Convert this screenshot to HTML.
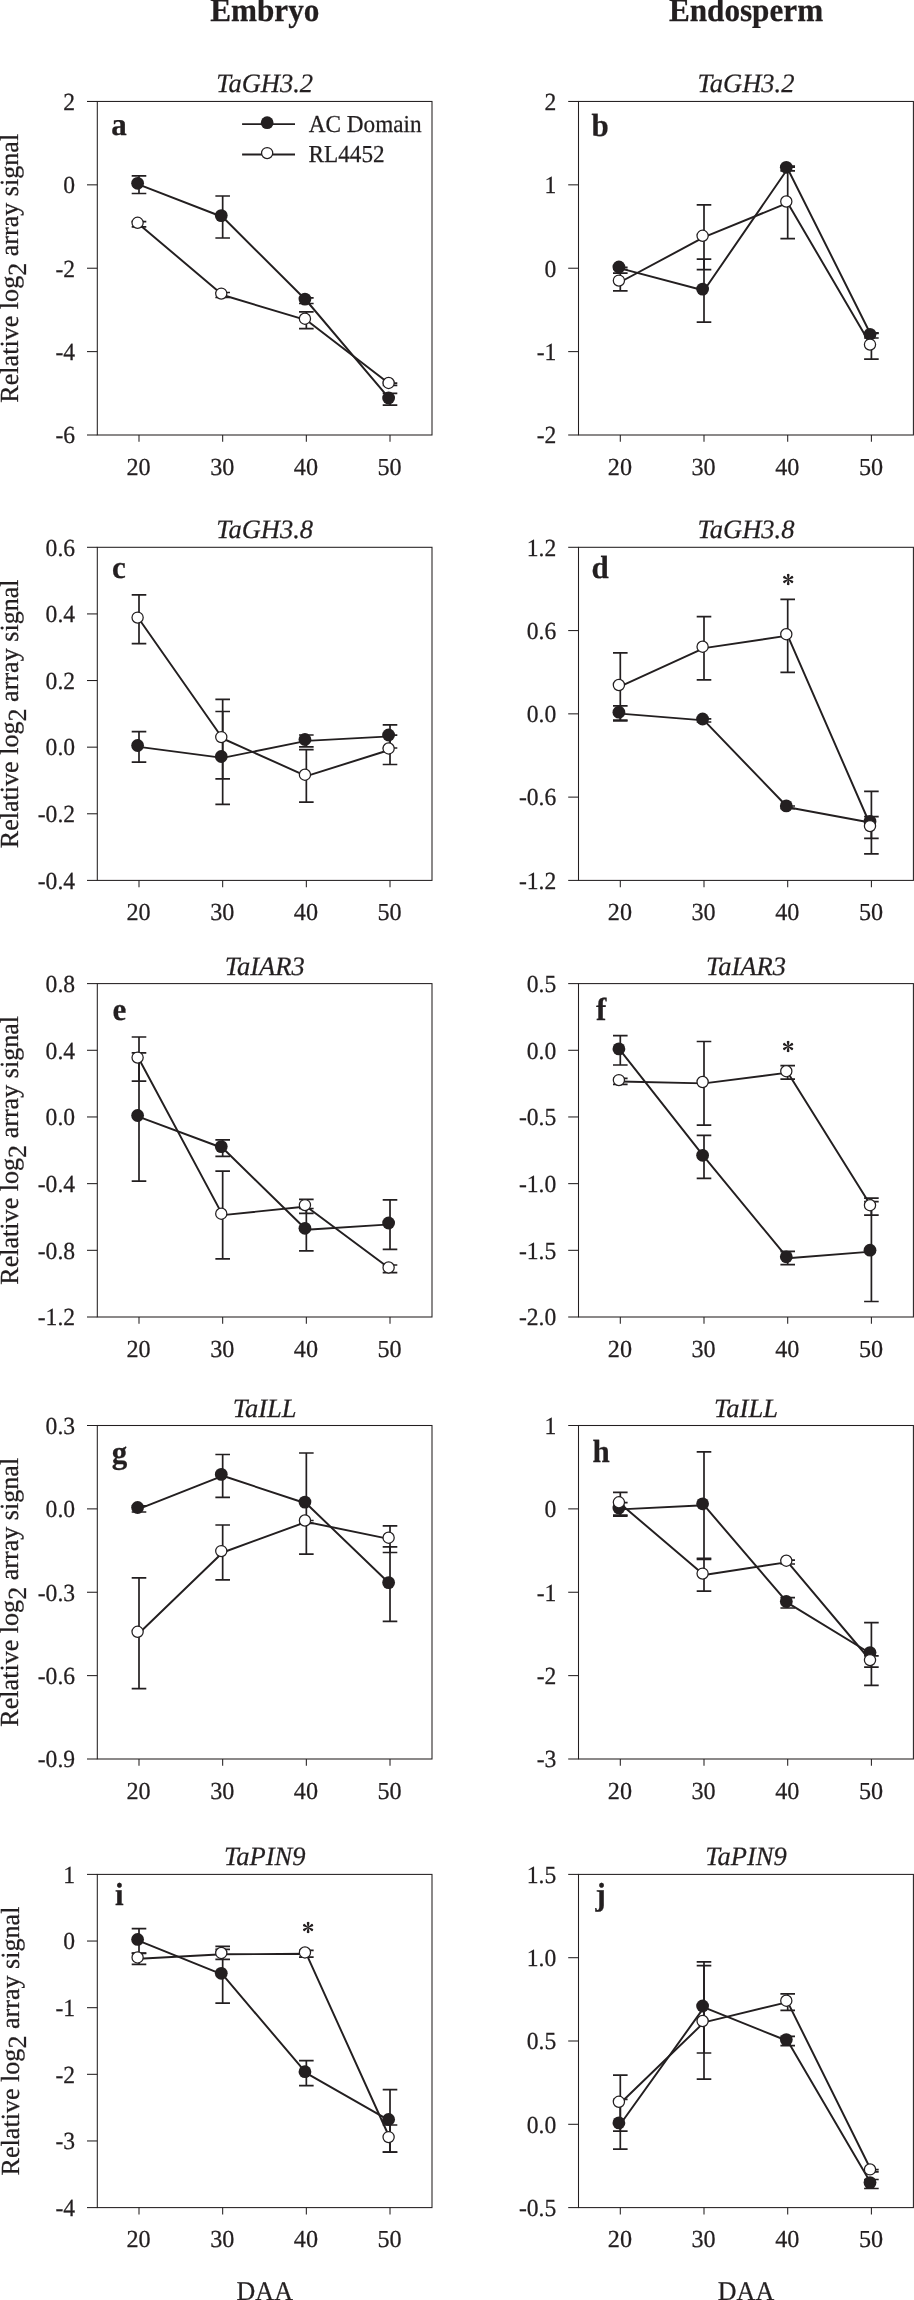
<!DOCTYPE html>
<html><head><meta charset="utf-8"><title>Embryo / Endosperm</title><style>
html,body{margin:0;padding:0;background:#fff;width:914px;height:2300px;overflow:hidden;}
svg{display:block;will-change:transform;font-family:"Liberation Serif", serif;}
text{fill:#231f20;stroke:#231f20;stroke-width:0.25px;text-rendering:geometricPrecision;}
</style></head><body>
<svg width="914" height="2300" viewBox="0 0 914 2300">
<!-- panel a -->
<rect x="97.30" y="101.45" width="334.70" height="333.55" fill="none" stroke="#231f20" stroke-width="1.05"/>
<line x1="87.00" y1="101.45" x2="97.30" y2="101.45" stroke="#231f20" stroke-width="1.05" />
<text transform="translate(75.10,109.75) scale(1,1.04)" font-size="23.6" text-anchor="end" >2</text>
<line x1="87.00" y1="184.84" x2="97.30" y2="184.84" stroke="#231f20" stroke-width="1.05" />
<text transform="translate(75.10,193.14) scale(1,1.04)" font-size="23.6" text-anchor="end" >0</text>
<line x1="87.00" y1="268.23" x2="97.30" y2="268.23" stroke="#231f20" stroke-width="1.05" />
<text transform="translate(75.10,276.53) scale(1,1.04)" font-size="23.6" text-anchor="end" >-2</text>
<line x1="87.00" y1="351.61" x2="97.30" y2="351.61" stroke="#231f20" stroke-width="1.05" />
<text transform="translate(75.10,359.91) scale(1,1.04)" font-size="23.6" text-anchor="end" >-4</text>
<line x1="87.00" y1="435.00" x2="97.30" y2="435.00" stroke="#231f20" stroke-width="1.05" />
<text transform="translate(75.10,443.30) scale(1,1.04)" font-size="23.6" text-anchor="end" >-6</text>
<line x1="139.00" y1="435.00" x2="139.00" y2="441.80" stroke="#231f20" stroke-width="1.05" />
<text transform="translate(138.60,474.70) scale(1,1.01)" font-size="24.2" text-anchor="middle" >20</text>
<line x1="222.67" y1="435.00" x2="222.67" y2="441.80" stroke="#231f20" stroke-width="1.05" />
<text transform="translate(222.27,474.70) scale(1,1.01)" font-size="24.2" text-anchor="middle" >30</text>
<line x1="306.34" y1="435.00" x2="306.34" y2="441.80" stroke="#231f20" stroke-width="1.05" />
<text transform="translate(305.94,474.70) scale(1,1.01)" font-size="24.2" text-anchor="middle" >40</text>
<line x1="390.01" y1="435.00" x2="390.01" y2="441.80" stroke="#231f20" stroke-width="1.05" />
<text transform="translate(389.61,474.70) scale(1,1.01)" font-size="24.2" text-anchor="middle" >50</text>
<text x="264.65" y="92.45" font-size="26.5" text-anchor="middle" font-style="italic" >TaGH3.2</text>
<text transform="translate(111.30,135.25) scale(1,1.03)" font-size="31" font-weight="bold" >a</text>
<polyline points="139.00,184.70 222.67,217.00 306.34,300.50 390.01,399.40" fill="none" stroke="#231f20" stroke-width="1.95" stroke-linejoin="round"/>
<polyline points="139.00,224.20 222.67,295.00 306.34,320.10 390.01,384.30" fill="none" stroke="#231f20" stroke-width="1.95" stroke-linejoin="round"/>
<path d="M139.00 175.90V193.50M131.70 175.90H146.30M131.70 193.50H146.30M222.67 196.00V238.00M215.37 196.00H229.97M215.37 238.00H229.97M306.34 297.90V303.50M299.04 297.90H313.64M299.04 303.50H313.64M390.01 393.40V405.20M382.71 393.40H397.31M382.71 405.20H397.31" stroke="#231f20" stroke-width="1.7" fill="none"/>
<circle cx="137.60" cy="183.30" r="6.4" fill="#231f20"/>
<circle cx="221.27" cy="215.60" r="6.4" fill="#231f20"/>
<circle cx="304.94" cy="299.10" r="6.4" fill="#231f20"/>
<circle cx="388.61" cy="398.00" r="6.4" fill="#231f20"/>
<path d="M139.00 221.60V226.80M131.70 221.60H146.30M131.70 226.80H146.30M222.67 292.50V297.50M215.37 292.50H229.97M215.37 297.50H229.97M306.34 311.80V328.60M299.04 311.80H313.64M299.04 328.60H313.64M390.01 383.20V385.40M382.71 383.20H397.31M382.71 385.40H397.31" stroke="#231f20" stroke-width="1.7" fill="none"/>
<circle cx="137.60" cy="222.80" r="5.6" fill="#fff" stroke="#231f20" stroke-width="1.25"/>
<circle cx="221.27" cy="293.60" r="5.6" fill="#fff" stroke="#231f20" stroke-width="1.25"/>
<circle cx="304.94" cy="318.70" r="5.6" fill="#fff" stroke="#231f20" stroke-width="1.25"/>
<circle cx="388.61" cy="382.90" r="5.6" fill="#fff" stroke="#231f20" stroke-width="1.25"/>
<line x1="242.10" y1="124.10" x2="295.00" y2="124.10" stroke="#231f20" stroke-width="1.95" />
<circle cx="267.15" cy="122.70" r="6.4" fill="#231f20"/>
<line x1="242.10" y1="154.50" x2="295.00" y2="154.50" stroke="#231f20" stroke-width="1.95" />
<circle cx="267.15" cy="153.10" r="5.6" fill="#fff" stroke="#231f20" stroke-width="1.25"/>
<text transform="translate(308.80,131.70) scale(1,1.05)" font-size="23.2" >AC Domain</text>
<text transform="translate(308.60,162.30) scale(1,1.05)" font-size="23.2" >RL4452</text>
<!-- panel b -->
<rect x="578.50" y="101.45" width="334.90" height="333.55" fill="none" stroke="#231f20" stroke-width="1.05"/>
<line x1="568.20" y1="101.45" x2="578.50" y2="101.45" stroke="#231f20" stroke-width="1.05" />
<text transform="translate(556.30,109.75) scale(1,1.04)" font-size="23.6" text-anchor="end" >2</text>
<line x1="568.20" y1="184.84" x2="578.50" y2="184.84" stroke="#231f20" stroke-width="1.05" />
<text transform="translate(556.30,193.14) scale(1,1.04)" font-size="23.6" text-anchor="end" >1</text>
<line x1="568.20" y1="268.23" x2="578.50" y2="268.23" stroke="#231f20" stroke-width="1.05" />
<text transform="translate(556.30,276.53) scale(1,1.04)" font-size="23.6" text-anchor="end" >0</text>
<line x1="568.20" y1="351.61" x2="578.50" y2="351.61" stroke="#231f20" stroke-width="1.05" />
<text transform="translate(556.30,359.91) scale(1,1.04)" font-size="23.6" text-anchor="end" >-1</text>
<line x1="568.20" y1="435.00" x2="578.50" y2="435.00" stroke="#231f20" stroke-width="1.05" />
<text transform="translate(556.30,443.30) scale(1,1.04)" font-size="23.6" text-anchor="end" >-2</text>
<line x1="620.30" y1="435.00" x2="620.30" y2="441.80" stroke="#231f20" stroke-width="1.05" />
<text transform="translate(619.90,474.70) scale(1,1.01)" font-size="24.2" text-anchor="middle" >20</text>
<line x1="704.00" y1="435.00" x2="704.00" y2="441.80" stroke="#231f20" stroke-width="1.05" />
<text transform="translate(703.60,474.70) scale(1,1.01)" font-size="24.2" text-anchor="middle" >30</text>
<line x1="787.70" y1="435.00" x2="787.70" y2="441.80" stroke="#231f20" stroke-width="1.05" />
<text transform="translate(787.30,474.70) scale(1,1.01)" font-size="24.2" text-anchor="middle" >40</text>
<line x1="871.40" y1="435.00" x2="871.40" y2="441.80" stroke="#231f20" stroke-width="1.05" />
<text transform="translate(871.00,474.70) scale(1,1.01)" font-size="24.2" text-anchor="middle" >50</text>
<text x="745.95" y="92.45" font-size="26.5" text-anchor="middle" font-style="italic" >TaGH3.2</text>
<text transform="translate(591.50,135.55) scale(1,1.03)" font-size="31" font-weight="bold" >b</text>
<polyline points="620.30,268.40 704.00,290.50 787.70,168.70 871.40,335.70" fill="none" stroke="#231f20" stroke-width="1.95" stroke-linejoin="round"/>
<polyline points="620.30,282.00 704.00,237.20 787.70,202.90 871.40,346.00" fill="none" stroke="#231f20" stroke-width="1.95" stroke-linejoin="round"/>
<path d="M620.30 267.30V269.50M613.00 267.30H627.60M613.00 269.50H627.60M704.00 259.10V322.10M696.70 259.10H711.30M696.70 322.10H711.30M787.70 166.20V170.90M780.40 166.20H795.00M780.40 170.90H795.00M871.40 333.40V338.00M864.10 333.40H878.70M864.10 338.00H878.70" stroke="#231f20" stroke-width="1.7" fill="none"/>
<circle cx="618.90" cy="267.00" r="6.4" fill="#231f20"/>
<circle cx="702.60" cy="289.10" r="6.4" fill="#231f20"/>
<circle cx="786.30" cy="167.30" r="6.4" fill="#231f20"/>
<circle cx="870.00" cy="334.30" r="6.4" fill="#231f20"/>
<path d="M620.30 273.10V290.90M613.00 273.10H627.60M613.00 290.90H627.60M704.00 204.90V269.70M696.70 204.90H711.30M696.70 269.70H711.30M787.70 167.20V238.60M780.40 167.20H795.00M780.40 238.60H795.00M871.40 332.80V359.20M864.10 332.80H878.70M864.10 359.20H878.70" stroke="#231f20" stroke-width="1.7" fill="none"/>
<circle cx="618.90" cy="280.60" r="5.6" fill="#fff" stroke="#231f20" stroke-width="1.25"/>
<circle cx="702.60" cy="235.80" r="5.6" fill="#fff" stroke="#231f20" stroke-width="1.25"/>
<circle cx="786.30" cy="201.50" r="5.6" fill="#fff" stroke="#231f20" stroke-width="1.25"/>
<circle cx="870.00" cy="344.60" r="5.6" fill="#fff" stroke="#231f20" stroke-width="1.25"/>
<!-- panel c -->
<rect x="97.30" y="547.30" width="334.70" height="333.10" fill="none" stroke="#231f20" stroke-width="1.05"/>
<line x1="87.00" y1="547.30" x2="97.30" y2="547.30" stroke="#231f20" stroke-width="1.05" />
<text transform="translate(75.10,555.60) scale(1,1.04)" font-size="23.6" text-anchor="end" >0.6</text>
<line x1="87.00" y1="613.92" x2="97.30" y2="613.92" stroke="#231f20" stroke-width="1.05" />
<text transform="translate(75.10,622.22) scale(1,1.04)" font-size="23.6" text-anchor="end" >0.4</text>
<line x1="87.00" y1="680.54" x2="97.30" y2="680.54" stroke="#231f20" stroke-width="1.05" />
<text transform="translate(75.10,688.84) scale(1,1.04)" font-size="23.6" text-anchor="end" >0.2</text>
<line x1="87.00" y1="747.16" x2="97.30" y2="747.16" stroke="#231f20" stroke-width="1.05" />
<text transform="translate(75.10,755.46) scale(1,1.04)" font-size="23.6" text-anchor="end" >0.0</text>
<line x1="87.00" y1="813.78" x2="97.30" y2="813.78" stroke="#231f20" stroke-width="1.05" />
<text transform="translate(75.10,822.08) scale(1,1.04)" font-size="23.6" text-anchor="end" >-0.2</text>
<line x1="87.00" y1="880.40" x2="97.30" y2="880.40" stroke="#231f20" stroke-width="1.05" />
<text transform="translate(75.10,888.70) scale(1,1.04)" font-size="23.6" text-anchor="end" >-0.4</text>
<line x1="139.00" y1="880.40" x2="139.00" y2="887.20" stroke="#231f20" stroke-width="1.05" />
<text transform="translate(138.60,920.10) scale(1,1.01)" font-size="24.2" text-anchor="middle" >20</text>
<line x1="222.67" y1="880.40" x2="222.67" y2="887.20" stroke="#231f20" stroke-width="1.05" />
<text transform="translate(222.27,920.10) scale(1,1.01)" font-size="24.2" text-anchor="middle" >30</text>
<line x1="306.34" y1="880.40" x2="306.34" y2="887.20" stroke="#231f20" stroke-width="1.05" />
<text transform="translate(305.94,920.10) scale(1,1.01)" font-size="24.2" text-anchor="middle" >40</text>
<line x1="390.01" y1="880.40" x2="390.01" y2="887.20" stroke="#231f20" stroke-width="1.05" />
<text transform="translate(389.61,920.10) scale(1,1.01)" font-size="24.2" text-anchor="middle" >50</text>
<text x="264.65" y="538.30" font-size="26.5" text-anchor="middle" font-style="italic" >TaGH3.8</text>
<text transform="translate(112.10,577.80) scale(1,1.03)" font-size="31" font-weight="bold" >c</text>
<polyline points="139.00,746.90 222.67,757.90 306.34,740.90 390.01,736.40" fill="none" stroke="#231f20" stroke-width="1.95" stroke-linejoin="round"/>
<polyline points="139.00,619.00 222.67,738.50 306.34,776.10 390.01,749.80" fill="none" stroke="#231f20" stroke-width="1.95" stroke-linejoin="round"/>
<path d="M139.00 731.70V762.20M131.70 731.70H146.30M131.70 762.20H146.30M222.67 711.50V804.30M215.37 711.50H229.97M215.37 804.30H229.97M306.34 735.00V746.80M299.04 735.00H313.64M299.04 746.80H313.64M390.01 724.80V748.00M382.71 724.80H397.31M382.71 748.00H397.31" stroke="#231f20" stroke-width="1.7" fill="none"/>
<circle cx="137.60" cy="745.50" r="6.4" fill="#231f20"/>
<circle cx="221.27" cy="756.50" r="6.4" fill="#231f20"/>
<circle cx="304.94" cy="739.50" r="6.4" fill="#231f20"/>
<circle cx="388.61" cy="735.00" r="6.4" fill="#231f20"/>
<path d="M139.00 594.90V643.60M131.70 594.90H146.30M131.70 643.60H146.30M222.67 699.30V778.80M215.37 699.30H229.97M215.37 778.80H229.97M306.34 749.60V802.20M299.04 749.60H313.64M299.04 802.20H313.64M390.01 735.10V764.50M382.71 735.10H397.31M382.71 764.50H397.31" stroke="#231f20" stroke-width="1.7" fill="none"/>
<circle cx="137.60" cy="617.60" r="5.6" fill="#fff" stroke="#231f20" stroke-width="1.25"/>
<circle cx="221.27" cy="737.10" r="5.6" fill="#fff" stroke="#231f20" stroke-width="1.25"/>
<circle cx="304.94" cy="774.70" r="5.6" fill="#fff" stroke="#231f20" stroke-width="1.25"/>
<circle cx="388.61" cy="748.40" r="5.6" fill="#fff" stroke="#231f20" stroke-width="1.25"/>
<!-- panel d -->
<rect x="578.50" y="547.30" width="334.90" height="333.10" fill="none" stroke="#231f20" stroke-width="1.05"/>
<line x1="568.20" y1="547.30" x2="578.50" y2="547.30" stroke="#231f20" stroke-width="1.05" />
<text transform="translate(556.30,555.60) scale(1,1.04)" font-size="23.6" text-anchor="end" >1.2</text>
<line x1="568.20" y1="630.57" x2="578.50" y2="630.57" stroke="#231f20" stroke-width="1.05" />
<text transform="translate(556.30,638.87) scale(1,1.04)" font-size="23.6" text-anchor="end" >0.6</text>
<line x1="568.20" y1="713.85" x2="578.50" y2="713.85" stroke="#231f20" stroke-width="1.05" />
<text transform="translate(556.30,722.15) scale(1,1.04)" font-size="23.6" text-anchor="end" >0.0</text>
<line x1="568.20" y1="797.12" x2="578.50" y2="797.12" stroke="#231f20" stroke-width="1.05" />
<text transform="translate(556.30,805.42) scale(1,1.04)" font-size="23.6" text-anchor="end" >-0.6</text>
<line x1="568.20" y1="880.40" x2="578.50" y2="880.40" stroke="#231f20" stroke-width="1.05" />
<text transform="translate(556.30,888.70) scale(1,1.04)" font-size="23.6" text-anchor="end" >-1.2</text>
<line x1="620.30" y1="880.40" x2="620.30" y2="887.20" stroke="#231f20" stroke-width="1.05" />
<text transform="translate(619.90,920.10) scale(1,1.01)" font-size="24.2" text-anchor="middle" >20</text>
<line x1="704.00" y1="880.40" x2="704.00" y2="887.20" stroke="#231f20" stroke-width="1.05" />
<text transform="translate(703.60,920.10) scale(1,1.01)" font-size="24.2" text-anchor="middle" >30</text>
<line x1="787.70" y1="880.40" x2="787.70" y2="887.20" stroke="#231f20" stroke-width="1.05" />
<text transform="translate(787.30,920.10) scale(1,1.01)" font-size="24.2" text-anchor="middle" >40</text>
<line x1="871.40" y1="880.40" x2="871.40" y2="887.20" stroke="#231f20" stroke-width="1.05" />
<text transform="translate(871.00,920.10) scale(1,1.01)" font-size="24.2" text-anchor="middle" >50</text>
<text x="745.95" y="538.30" font-size="26.5" text-anchor="middle" font-style="italic" >TaGH3.8</text>
<text transform="translate(591.40,577.90) scale(1,1.03)" font-size="31" font-weight="bold" >d</text>
<polyline points="620.30,713.60 704.00,720.40 787.70,807.30 871.40,822.80" fill="none" stroke="#231f20" stroke-width="1.95" stroke-linejoin="round"/>
<polyline points="620.30,686.40 704.00,648.10 787.70,635.60 871.40,827.50" fill="none" stroke="#231f20" stroke-width="1.95" stroke-linejoin="round"/>
<path d="M620.30 705.80V720.80M613.00 705.80H627.60M613.00 720.80H627.60M704.00 718.80V722.00M696.70 718.80H711.30M696.70 722.00H711.30M787.70 806.00V808.60M780.40 806.00H795.00M780.40 808.60H795.00M871.40 791.40V853.90M864.10 791.40H878.70M864.10 853.90H878.70" stroke="#231f20" stroke-width="1.7" fill="none"/>
<circle cx="618.90" cy="712.20" r="6.4" fill="#231f20"/>
<circle cx="702.60" cy="719.00" r="6.4" fill="#231f20"/>
<circle cx="786.30" cy="805.90" r="6.4" fill="#231f20"/>
<circle cx="870.00" cy="821.40" r="6.4" fill="#231f20"/>
<path d="M620.30 652.80V720.00M613.00 652.80H627.60M613.00 720.00H627.60M704.00 616.70V679.90M696.70 616.70H711.30M696.70 679.90H711.30M787.70 599.40V672.30M780.40 599.40H795.00M780.40 672.30H795.00M871.40 816.70V838.30M864.10 816.70H878.70M864.10 838.30H878.70" stroke="#231f20" stroke-width="1.7" fill="none"/>
<circle cx="618.90" cy="685.00" r="5.6" fill="#fff" stroke="#231f20" stroke-width="1.25"/>
<circle cx="702.60" cy="646.70" r="5.6" fill="#fff" stroke="#231f20" stroke-width="1.25"/>
<circle cx="786.30" cy="634.20" r="5.6" fill="#fff" stroke="#231f20" stroke-width="1.25"/>
<circle cx="870.00" cy="826.10" r="5.6" fill="#fff" stroke="#231f20" stroke-width="1.25"/>
<g transform="translate(788.20,579.50)" fill="#231f20"><path d="M-0.42 0L-1.25 -3.95A1.32 1.32 0 1 1 1.25 -3.95L0.42 0Z" transform="rotate(0)"/><path d="M-0.42 0L-1.25 -3.95A1.32 1.32 0 1 1 1.25 -3.95L0.42 0Z" transform="rotate(60)"/><path d="M-0.42 0L-1.25 -3.95A1.32 1.32 0 1 1 1.25 -3.95L0.42 0Z" transform="rotate(120)"/><path d="M-0.42 0L-1.25 -3.95A1.32 1.32 0 1 1 1.25 -3.95L0.42 0Z" transform="rotate(180)"/><path d="M-0.42 0L-1.25 -3.95A1.32 1.32 0 1 1 1.25 -3.95L0.42 0Z" transform="rotate(240)"/><path d="M-0.42 0L-1.25 -3.95A1.32 1.32 0 1 1 1.25 -3.95L0.42 0Z" transform="rotate(300)"/></g>
<!-- panel e -->
<rect x="97.30" y="983.60" width="334.70" height="333.40" fill="none" stroke="#231f20" stroke-width="1.05"/>
<line x1="87.00" y1="983.60" x2="97.30" y2="983.60" stroke="#231f20" stroke-width="1.05" />
<text transform="translate(75.10,991.90) scale(1,1.04)" font-size="23.6" text-anchor="end" >0.8</text>
<line x1="87.00" y1="1050.28" x2="97.30" y2="1050.28" stroke="#231f20" stroke-width="1.05" />
<text transform="translate(75.10,1058.58) scale(1,1.04)" font-size="23.6" text-anchor="end" >0.4</text>
<line x1="87.00" y1="1116.96" x2="97.30" y2="1116.96" stroke="#231f20" stroke-width="1.05" />
<text transform="translate(75.10,1125.26) scale(1,1.04)" font-size="23.6" text-anchor="end" >0.0</text>
<line x1="87.00" y1="1183.64" x2="97.30" y2="1183.64" stroke="#231f20" stroke-width="1.05" />
<text transform="translate(75.10,1191.94) scale(1,1.04)" font-size="23.6" text-anchor="end" >-0.4</text>
<line x1="87.00" y1="1250.32" x2="97.30" y2="1250.32" stroke="#231f20" stroke-width="1.05" />
<text transform="translate(75.10,1258.62) scale(1,1.04)" font-size="23.6" text-anchor="end" >-0.8</text>
<line x1="87.00" y1="1317.00" x2="97.30" y2="1317.00" stroke="#231f20" stroke-width="1.05" />
<text transform="translate(75.10,1325.30) scale(1,1.04)" font-size="23.6" text-anchor="end" >-1.2</text>
<line x1="139.00" y1="1317.00" x2="139.00" y2="1323.80" stroke="#231f20" stroke-width="1.05" />
<text transform="translate(138.60,1356.70) scale(1,1.01)" font-size="24.2" text-anchor="middle" >20</text>
<line x1="222.67" y1="1317.00" x2="222.67" y2="1323.80" stroke="#231f20" stroke-width="1.05" />
<text transform="translate(222.27,1356.70) scale(1,1.01)" font-size="24.2" text-anchor="middle" >30</text>
<line x1="306.34" y1="1317.00" x2="306.34" y2="1323.80" stroke="#231f20" stroke-width="1.05" />
<text transform="translate(305.94,1356.70) scale(1,1.01)" font-size="24.2" text-anchor="middle" >40</text>
<line x1="390.01" y1="1317.00" x2="390.01" y2="1323.80" stroke="#231f20" stroke-width="1.05" />
<text transform="translate(389.61,1356.70) scale(1,1.01)" font-size="24.2" text-anchor="middle" >50</text>
<text x="264.65" y="974.60" font-size="26.5" text-anchor="middle" font-style="italic" >TaIAR3</text>
<text transform="translate(112.40,1020.20) scale(1,1.03)" font-size="31" font-weight="bold" >e</text>
<polyline points="139.00,1116.90 222.67,1148.00 306.34,1229.70 390.01,1224.40" fill="none" stroke="#231f20" stroke-width="1.95" stroke-linejoin="round"/>
<polyline points="139.00,1059.00 222.67,1215.10 306.34,1206.50 390.01,1268.80" fill="none" stroke="#231f20" stroke-width="1.95" stroke-linejoin="round"/>
<path d="M139.00 1052.90V1181.10M131.70 1052.90H146.30M131.70 1181.10H146.30M222.67 1139.80V1156.30M215.37 1139.80H229.97M215.37 1156.30H229.97M306.34 1208.50V1250.90M299.04 1208.50H313.64M299.04 1250.90H313.64M390.01 1199.90V1249.30M382.71 1199.90H397.31M382.71 1249.30H397.31" stroke="#231f20" stroke-width="1.7" fill="none"/>
<circle cx="137.60" cy="1115.50" r="6.4" fill="#231f20"/>
<circle cx="221.27" cy="1146.60" r="6.4" fill="#231f20"/>
<circle cx="304.94" cy="1228.30" r="6.4" fill="#231f20"/>
<circle cx="388.61" cy="1223.00" r="6.4" fill="#231f20"/>
<path d="M139.00 1037.00V1081.20M131.70 1037.00H146.30M131.70 1081.20H146.30M222.67 1171.10V1258.80M215.37 1171.10H229.97M215.37 1258.80H229.97M306.34 1199.40V1213.40M299.04 1199.40H313.64M299.04 1213.40H313.64M390.01 1265.00V1272.60M382.71 1265.00H397.31M382.71 1272.60H397.31" stroke="#231f20" stroke-width="1.7" fill="none"/>
<circle cx="137.60" cy="1057.60" r="5.6" fill="#fff" stroke="#231f20" stroke-width="1.25"/>
<circle cx="221.27" cy="1213.70" r="5.6" fill="#fff" stroke="#231f20" stroke-width="1.25"/>
<circle cx="304.94" cy="1205.10" r="5.6" fill="#fff" stroke="#231f20" stroke-width="1.25"/>
<circle cx="388.61" cy="1267.40" r="5.6" fill="#fff" stroke="#231f20" stroke-width="1.25"/>
<!-- panel f -->
<rect x="578.50" y="983.60" width="334.90" height="333.40" fill="none" stroke="#231f20" stroke-width="1.05"/>
<line x1="568.20" y1="983.60" x2="578.50" y2="983.60" stroke="#231f20" stroke-width="1.05" />
<text transform="translate(556.30,991.90) scale(1,1.04)" font-size="23.6" text-anchor="end" >0.5</text>
<line x1="568.20" y1="1050.28" x2="578.50" y2="1050.28" stroke="#231f20" stroke-width="1.05" />
<text transform="translate(556.30,1058.58) scale(1,1.04)" font-size="23.6" text-anchor="end" >0.0</text>
<line x1="568.20" y1="1116.96" x2="578.50" y2="1116.96" stroke="#231f20" stroke-width="1.05" />
<text transform="translate(556.30,1125.26) scale(1,1.04)" font-size="23.6" text-anchor="end" >-0.5</text>
<line x1="568.20" y1="1183.64" x2="578.50" y2="1183.64" stroke="#231f20" stroke-width="1.05" />
<text transform="translate(556.30,1191.94) scale(1,1.04)" font-size="23.6" text-anchor="end" >-1.0</text>
<line x1="568.20" y1="1250.32" x2="578.50" y2="1250.32" stroke="#231f20" stroke-width="1.05" />
<text transform="translate(556.30,1258.62) scale(1,1.04)" font-size="23.6" text-anchor="end" >-1.5</text>
<line x1="568.20" y1="1317.00" x2="578.50" y2="1317.00" stroke="#231f20" stroke-width="1.05" />
<text transform="translate(556.30,1325.30) scale(1,1.04)" font-size="23.6" text-anchor="end" >-2.0</text>
<line x1="620.30" y1="1317.00" x2="620.30" y2="1323.80" stroke="#231f20" stroke-width="1.05" />
<text transform="translate(619.90,1356.70) scale(1,1.01)" font-size="24.2" text-anchor="middle" >20</text>
<line x1="704.00" y1="1317.00" x2="704.00" y2="1323.80" stroke="#231f20" stroke-width="1.05" />
<text transform="translate(703.60,1356.70) scale(1,1.01)" font-size="24.2" text-anchor="middle" >30</text>
<line x1="787.70" y1="1317.00" x2="787.70" y2="1323.80" stroke="#231f20" stroke-width="1.05" />
<text transform="translate(787.30,1356.70) scale(1,1.01)" font-size="24.2" text-anchor="middle" >40</text>
<line x1="871.40" y1="1317.00" x2="871.40" y2="1323.80" stroke="#231f20" stroke-width="1.05" />
<text transform="translate(871.00,1356.70) scale(1,1.01)" font-size="24.2" text-anchor="middle" >50</text>
<text x="745.95" y="974.60" font-size="26.5" text-anchor="middle" font-style="italic" >TaIAR3</text>
<text transform="translate(596.10,1020.40) scale(1,1.03)" font-size="31" font-weight="bold" >f</text>
<polyline points="620.30,1050.30 704.00,1156.70 787.70,1258.20 871.40,1251.60" fill="none" stroke="#231f20" stroke-width="1.95" stroke-linejoin="round"/>
<polyline points="620.30,1081.50 704.00,1083.40 787.70,1072.60 871.40,1206.60" fill="none" stroke="#231f20" stroke-width="1.95" stroke-linejoin="round"/>
<path d="M620.30 1035.70V1065.00M613.00 1035.70H627.60M613.00 1065.00H627.60M704.00 1135.30V1178.40M696.70 1135.30H711.30M696.70 1178.40H711.30M787.70 1251.30V1264.70M780.40 1251.30H795.00M780.40 1264.70H795.00M871.40 1201.70V1301.50M864.10 1201.70H878.70M864.10 1301.50H878.70" stroke="#231f20" stroke-width="1.7" fill="none"/>
<circle cx="618.90" cy="1048.90" r="6.4" fill="#231f20"/>
<circle cx="702.60" cy="1155.30" r="6.4" fill="#231f20"/>
<circle cx="786.30" cy="1256.80" r="6.4" fill="#231f20"/>
<circle cx="870.00" cy="1250.20" r="6.4" fill="#231f20"/>
<path d="M620.30 1078.30V1084.40M613.00 1078.30H627.60M613.00 1084.40H627.60M704.00 1041.50V1125.20M696.70 1041.50H711.30M696.70 1125.20H711.30M787.70 1065.60V1079.20M780.40 1065.60H795.00M780.40 1079.20H795.00M871.40 1198.20V1215.20M864.10 1198.20H878.70M864.10 1215.20H878.70" stroke="#231f20" stroke-width="1.7" fill="none"/>
<circle cx="618.90" cy="1080.10" r="5.6" fill="#fff" stroke="#231f20" stroke-width="1.25"/>
<circle cx="702.60" cy="1082.00" r="5.6" fill="#fff" stroke="#231f20" stroke-width="1.25"/>
<circle cx="786.30" cy="1071.20" r="5.6" fill="#fff" stroke="#231f20" stroke-width="1.25"/>
<circle cx="870.00" cy="1205.20" r="5.6" fill="#fff" stroke="#231f20" stroke-width="1.25"/>
<g transform="translate(788.10,1046.50)" fill="#231f20"><path d="M-0.42 0L-1.25 -3.95A1.32 1.32 0 1 1 1.25 -3.95L0.42 0Z" transform="rotate(0)"/><path d="M-0.42 0L-1.25 -3.95A1.32 1.32 0 1 1 1.25 -3.95L0.42 0Z" transform="rotate(60)"/><path d="M-0.42 0L-1.25 -3.95A1.32 1.32 0 1 1 1.25 -3.95L0.42 0Z" transform="rotate(120)"/><path d="M-0.42 0L-1.25 -3.95A1.32 1.32 0 1 1 1.25 -3.95L0.42 0Z" transform="rotate(180)"/><path d="M-0.42 0L-1.25 -3.95A1.32 1.32 0 1 1 1.25 -3.95L0.42 0Z" transform="rotate(240)"/><path d="M-0.42 0L-1.25 -3.95A1.32 1.32 0 1 1 1.25 -3.95L0.42 0Z" transform="rotate(300)"/></g>
<!-- panel g -->
<rect x="97.30" y="1425.50" width="334.70" height="333.50" fill="none" stroke="#231f20" stroke-width="1.05"/>
<line x1="87.00" y1="1425.50" x2="97.30" y2="1425.50" stroke="#231f20" stroke-width="1.05" />
<text transform="translate(75.10,1433.80) scale(1,1.04)" font-size="23.6" text-anchor="end" >0.3</text>
<line x1="87.00" y1="1508.88" x2="97.30" y2="1508.88" stroke="#231f20" stroke-width="1.05" />
<text transform="translate(75.10,1517.17) scale(1,1.04)" font-size="23.6" text-anchor="end" >0.0</text>
<line x1="87.00" y1="1592.25" x2="97.30" y2="1592.25" stroke="#231f20" stroke-width="1.05" />
<text transform="translate(75.10,1600.55) scale(1,1.04)" font-size="23.6" text-anchor="end" >-0.3</text>
<line x1="87.00" y1="1675.62" x2="97.30" y2="1675.62" stroke="#231f20" stroke-width="1.05" />
<text transform="translate(75.10,1683.92) scale(1,1.04)" font-size="23.6" text-anchor="end" >-0.6</text>
<line x1="87.00" y1="1759.00" x2="97.30" y2="1759.00" stroke="#231f20" stroke-width="1.05" />
<text transform="translate(75.10,1767.30) scale(1,1.04)" font-size="23.6" text-anchor="end" >-0.9</text>
<line x1="139.00" y1="1759.00" x2="139.00" y2="1765.80" stroke="#231f20" stroke-width="1.05" />
<text transform="translate(138.60,1798.70) scale(1,1.01)" font-size="24.2" text-anchor="middle" >20</text>
<line x1="222.67" y1="1759.00" x2="222.67" y2="1765.80" stroke="#231f20" stroke-width="1.05" />
<text transform="translate(222.27,1798.70) scale(1,1.01)" font-size="24.2" text-anchor="middle" >30</text>
<line x1="306.34" y1="1759.00" x2="306.34" y2="1765.80" stroke="#231f20" stroke-width="1.05" />
<text transform="translate(305.94,1798.70) scale(1,1.01)" font-size="24.2" text-anchor="middle" >40</text>
<line x1="390.01" y1="1759.00" x2="390.01" y2="1765.80" stroke="#231f20" stroke-width="1.05" />
<text transform="translate(389.61,1798.70) scale(1,1.01)" font-size="24.2" text-anchor="middle" >50</text>
<text x="264.65" y="1416.50" font-size="26.5" text-anchor="middle" font-style="italic" >TaILL</text>
<text transform="translate(111.80,1462.60) scale(1,1.03)" font-size="31" font-weight="bold" >g</text>
<polyline points="139.00,1508.90 222.67,1475.80 306.34,1503.50 390.01,1584.00" fill="none" stroke="#231f20" stroke-width="1.95" stroke-linejoin="round"/>
<polyline points="139.00,1633.20 222.67,1552.50 306.34,1521.90 390.01,1539.10" fill="none" stroke="#231f20" stroke-width="1.95" stroke-linejoin="round"/>
<path d="M139.00 1505.80V1512.00M131.70 1505.80H146.30M131.70 1512.00H146.30M222.67 1454.50V1497.30M215.37 1454.50H229.97M215.37 1497.30H229.97M306.34 1453.00V1554.20M299.04 1453.00H313.64M299.04 1554.20H313.64M390.01 1546.90V1621.30M382.71 1546.90H397.31M382.71 1621.30H397.31" stroke="#231f20" stroke-width="1.7" fill="none"/>
<circle cx="137.60" cy="1507.50" r="6.4" fill="#231f20"/>
<circle cx="221.27" cy="1474.40" r="6.4" fill="#231f20"/>
<circle cx="304.94" cy="1502.10" r="6.4" fill="#231f20"/>
<circle cx="388.61" cy="1582.60" r="6.4" fill="#231f20"/>
<path d="M139.00 1577.90V1688.70M131.70 1577.90H146.30M131.70 1688.70H146.30M222.67 1525.00V1579.90M215.37 1525.00H229.97M215.37 1579.90H229.97M306.34 1520.50V1523.30M299.04 1520.50H313.64M299.04 1523.30H313.64M390.01 1525.80V1552.50M382.71 1525.80H397.31M382.71 1552.50H397.31" stroke="#231f20" stroke-width="1.7" fill="none"/>
<circle cx="137.60" cy="1631.80" r="5.6" fill="#fff" stroke="#231f20" stroke-width="1.25"/>
<circle cx="221.27" cy="1551.10" r="5.6" fill="#fff" stroke="#231f20" stroke-width="1.25"/>
<circle cx="304.94" cy="1520.50" r="5.6" fill="#fff" stroke="#231f20" stroke-width="1.25"/>
<circle cx="388.61" cy="1537.70" r="5.6" fill="#fff" stroke="#231f20" stroke-width="1.25"/>
<!-- panel h -->
<rect x="578.50" y="1425.50" width="334.90" height="333.50" fill="none" stroke="#231f20" stroke-width="1.05"/>
<line x1="568.20" y1="1425.50" x2="578.50" y2="1425.50" stroke="#231f20" stroke-width="1.05" />
<text transform="translate(556.30,1433.80) scale(1,1.04)" font-size="23.6" text-anchor="end" >1</text>
<line x1="568.20" y1="1508.88" x2="578.50" y2="1508.88" stroke="#231f20" stroke-width="1.05" />
<text transform="translate(556.30,1517.17) scale(1,1.04)" font-size="23.6" text-anchor="end" >0</text>
<line x1="568.20" y1="1592.25" x2="578.50" y2="1592.25" stroke="#231f20" stroke-width="1.05" />
<text transform="translate(556.30,1600.55) scale(1,1.04)" font-size="23.6" text-anchor="end" >-1</text>
<line x1="568.20" y1="1675.62" x2="578.50" y2="1675.62" stroke="#231f20" stroke-width="1.05" />
<text transform="translate(556.30,1683.92) scale(1,1.04)" font-size="23.6" text-anchor="end" >-2</text>
<line x1="568.20" y1="1759.00" x2="578.50" y2="1759.00" stroke="#231f20" stroke-width="1.05" />
<text transform="translate(556.30,1767.30) scale(1,1.04)" font-size="23.6" text-anchor="end" >-3</text>
<line x1="620.30" y1="1759.00" x2="620.30" y2="1765.80" stroke="#231f20" stroke-width="1.05" />
<text transform="translate(619.90,1798.70) scale(1,1.01)" font-size="24.2" text-anchor="middle" >20</text>
<line x1="704.00" y1="1759.00" x2="704.00" y2="1765.80" stroke="#231f20" stroke-width="1.05" />
<text transform="translate(703.60,1798.70) scale(1,1.01)" font-size="24.2" text-anchor="middle" >30</text>
<line x1="787.70" y1="1759.00" x2="787.70" y2="1765.80" stroke="#231f20" stroke-width="1.05" />
<text transform="translate(787.30,1798.70) scale(1,1.01)" font-size="24.2" text-anchor="middle" >40</text>
<line x1="871.40" y1="1759.00" x2="871.40" y2="1765.80" stroke="#231f20" stroke-width="1.05" />
<text transform="translate(871.00,1798.70) scale(1,1.01)" font-size="24.2" text-anchor="middle" >50</text>
<text x="745.95" y="1416.50" font-size="26.5" text-anchor="middle" font-style="italic" >TaILL</text>
<text transform="translate(592.60,1462.10) scale(1,1.03)" font-size="31" font-weight="bold" >h</text>
<polyline points="620.30,1509.40 704.00,1505.20 787.70,1602.90 871.40,1654.00" fill="none" stroke="#231f20" stroke-width="1.95" stroke-linejoin="round"/>
<polyline points="620.30,1503.70 704.00,1575.00 787.70,1562.10 871.40,1661.50" fill="none" stroke="#231f20" stroke-width="1.95" stroke-linejoin="round"/>
<path d="M620.30 1502.70V1516.10M613.00 1502.70H627.60M613.00 1516.10H627.60M704.00 1451.80V1558.40M696.70 1451.80H711.30M696.70 1558.40H711.30M787.70 1597.70V1608.00M780.40 1597.70H795.00M780.40 1608.00H795.00M871.40 1622.60V1685.40M864.10 1622.60H878.70M864.10 1685.40H878.70" stroke="#231f20" stroke-width="1.7" fill="none"/>
<circle cx="618.90" cy="1508.00" r="6.4" fill="#231f20"/>
<circle cx="702.60" cy="1503.80" r="6.4" fill="#231f20"/>
<circle cx="786.30" cy="1601.50" r="6.4" fill="#231f20"/>
<circle cx="870.00" cy="1652.60" r="6.4" fill="#231f20"/>
<path d="M620.30 1492.30V1515.10M613.00 1492.30H627.60M613.00 1515.10H627.60M704.00 1559.30V1591.10M696.70 1559.30H711.30M696.70 1591.10H711.30M787.70 1560.20V1564.00M780.40 1560.20H795.00M780.40 1564.00H795.00M871.40 1655.80V1667.10M864.10 1655.80H878.70M864.10 1667.10H878.70" stroke="#231f20" stroke-width="1.7" fill="none"/>
<circle cx="618.90" cy="1502.30" r="5.6" fill="#fff" stroke="#231f20" stroke-width="1.25"/>
<circle cx="702.60" cy="1573.60" r="5.6" fill="#fff" stroke="#231f20" stroke-width="1.25"/>
<circle cx="786.30" cy="1560.70" r="5.6" fill="#fff" stroke="#231f20" stroke-width="1.25"/>
<circle cx="870.00" cy="1660.10" r="5.6" fill="#fff" stroke="#231f20" stroke-width="1.25"/>
<!-- panel i -->
<rect x="97.30" y="1874.40" width="334.70" height="333.20" fill="none" stroke="#231f20" stroke-width="1.05"/>
<line x1="87.00" y1="1874.40" x2="97.30" y2="1874.40" stroke="#231f20" stroke-width="1.05" />
<text transform="translate(75.10,1882.70) scale(1,1.04)" font-size="23.6" text-anchor="end" >1</text>
<line x1="87.00" y1="1941.04" x2="97.30" y2="1941.04" stroke="#231f20" stroke-width="1.05" />
<text transform="translate(75.10,1949.34) scale(1,1.04)" font-size="23.6" text-anchor="end" >0</text>
<line x1="87.00" y1="2007.68" x2="97.30" y2="2007.68" stroke="#231f20" stroke-width="1.05" />
<text transform="translate(75.10,2015.98) scale(1,1.04)" font-size="23.6" text-anchor="end" >-1</text>
<line x1="87.00" y1="2074.32" x2="97.30" y2="2074.32" stroke="#231f20" stroke-width="1.05" />
<text transform="translate(75.10,2082.62) scale(1,1.04)" font-size="23.6" text-anchor="end" >-2</text>
<line x1="87.00" y1="2140.96" x2="97.30" y2="2140.96" stroke="#231f20" stroke-width="1.05" />
<text transform="translate(75.10,2149.26) scale(1,1.04)" font-size="23.6" text-anchor="end" >-3</text>
<line x1="87.00" y1="2207.60" x2="97.30" y2="2207.60" stroke="#231f20" stroke-width="1.05" />
<text transform="translate(75.10,2215.90) scale(1,1.04)" font-size="23.6" text-anchor="end" >-4</text>
<line x1="139.00" y1="2207.60" x2="139.00" y2="2214.40" stroke="#231f20" stroke-width="1.05" />
<text transform="translate(138.60,2247.30) scale(1,1.01)" font-size="24.2" text-anchor="middle" >20</text>
<line x1="222.67" y1="2207.60" x2="222.67" y2="2214.40" stroke="#231f20" stroke-width="1.05" />
<text transform="translate(222.27,2247.30) scale(1,1.01)" font-size="24.2" text-anchor="middle" >30</text>
<line x1="306.34" y1="2207.60" x2="306.34" y2="2214.40" stroke="#231f20" stroke-width="1.05" />
<text transform="translate(305.94,2247.30) scale(1,1.01)" font-size="24.2" text-anchor="middle" >40</text>
<line x1="390.01" y1="2207.60" x2="390.01" y2="2214.40" stroke="#231f20" stroke-width="1.05" />
<text transform="translate(389.61,2247.30) scale(1,1.01)" font-size="24.2" text-anchor="middle" >50</text>
<text x="264.65" y="1865.40" font-size="26.5" text-anchor="middle" font-style="italic" >TaPIN9</text>
<text transform="translate(114.90,1904.50) scale(1,1.03)" font-size="31" font-weight="bold" >i</text>
<polyline points="139.00,1940.85 222.67,1974.70 306.34,2073.10 390.01,2120.90" fill="none" stroke="#231f20" stroke-width="1.95" stroke-linejoin="round"/>
<polyline points="139.00,1958.80 222.67,1954.30 306.34,1953.80 390.01,2138.50" fill="none" stroke="#231f20" stroke-width="1.95" stroke-linejoin="round"/>
<path d="M139.00 1928.70V1953.00M131.70 1928.70H146.30M131.70 1953.00H146.30M222.67 1946.30V2003.10M215.37 1946.30H229.97M215.37 2003.10H229.97M306.34 2060.60V2085.70M299.04 2060.60H313.64M299.04 2085.70H313.64M390.01 2089.70V2152.10M382.71 2089.70H397.31M382.71 2152.10H397.31" stroke="#231f20" stroke-width="1.7" fill="none"/>
<circle cx="137.60" cy="1939.45" r="6.4" fill="#231f20"/>
<circle cx="221.27" cy="1973.30" r="6.4" fill="#231f20"/>
<circle cx="304.94" cy="2071.70" r="6.4" fill="#231f20"/>
<circle cx="388.61" cy="2119.50" r="6.4" fill="#231f20"/>
<path d="M139.00 1953.30V1964.30M131.70 1953.30H146.30M131.70 1964.30H146.30M222.67 1949.30V1959.30M215.37 1949.30H229.97M215.37 1959.30H229.97M306.34 1950.40V1957.20M299.04 1950.40H313.64M299.04 1957.20H313.64M390.01 2125.00V2152.00M382.71 2125.00H397.31M382.71 2152.00H397.31" stroke="#231f20" stroke-width="1.7" fill="none"/>
<circle cx="137.60" cy="1957.40" r="5.6" fill="#fff" stroke="#231f20" stroke-width="1.25"/>
<circle cx="221.27" cy="1952.90" r="5.6" fill="#fff" stroke="#231f20" stroke-width="1.25"/>
<circle cx="304.94" cy="1952.40" r="5.6" fill="#fff" stroke="#231f20" stroke-width="1.25"/>
<circle cx="388.61" cy="2137.10" r="5.6" fill="#fff" stroke="#231f20" stroke-width="1.25"/>
<g transform="translate(308.10,1927.50)" fill="#231f20"><path d="M-0.42 0L-1.25 -3.95A1.32 1.32 0 1 1 1.25 -3.95L0.42 0Z" transform="rotate(0)"/><path d="M-0.42 0L-1.25 -3.95A1.32 1.32 0 1 1 1.25 -3.95L0.42 0Z" transform="rotate(60)"/><path d="M-0.42 0L-1.25 -3.95A1.32 1.32 0 1 1 1.25 -3.95L0.42 0Z" transform="rotate(120)"/><path d="M-0.42 0L-1.25 -3.95A1.32 1.32 0 1 1 1.25 -3.95L0.42 0Z" transform="rotate(180)"/><path d="M-0.42 0L-1.25 -3.95A1.32 1.32 0 1 1 1.25 -3.95L0.42 0Z" transform="rotate(240)"/><path d="M-0.42 0L-1.25 -3.95A1.32 1.32 0 1 1 1.25 -3.95L0.42 0Z" transform="rotate(300)"/></g>
<!-- panel j -->
<rect x="578.50" y="1874.40" width="334.90" height="333.20" fill="none" stroke="#231f20" stroke-width="1.05"/>
<line x1="568.20" y1="1874.40" x2="578.50" y2="1874.40" stroke="#231f20" stroke-width="1.05" />
<text transform="translate(556.30,1882.70) scale(1,1.04)" font-size="23.6" text-anchor="end" >1.5</text>
<line x1="568.20" y1="1957.70" x2="578.50" y2="1957.70" stroke="#231f20" stroke-width="1.05" />
<text transform="translate(556.30,1966.00) scale(1,1.04)" font-size="23.6" text-anchor="end" >1.0</text>
<line x1="568.20" y1="2041.00" x2="578.50" y2="2041.00" stroke="#231f20" stroke-width="1.05" />
<text transform="translate(556.30,2049.30) scale(1,1.04)" font-size="23.6" text-anchor="end" >0.5</text>
<line x1="568.20" y1="2124.30" x2="578.50" y2="2124.30" stroke="#231f20" stroke-width="1.05" />
<text transform="translate(556.30,2132.60) scale(1,1.04)" font-size="23.6" text-anchor="end" >0.0</text>
<line x1="568.20" y1="2207.60" x2="578.50" y2="2207.60" stroke="#231f20" stroke-width="1.05" />
<text transform="translate(556.30,2215.90) scale(1,1.04)" font-size="23.6" text-anchor="end" >-0.5</text>
<line x1="620.30" y1="2207.60" x2="620.30" y2="2214.40" stroke="#231f20" stroke-width="1.05" />
<text transform="translate(619.90,2247.30) scale(1,1.01)" font-size="24.2" text-anchor="middle" >20</text>
<line x1="704.00" y1="2207.60" x2="704.00" y2="2214.40" stroke="#231f20" stroke-width="1.05" />
<text transform="translate(703.60,2247.30) scale(1,1.01)" font-size="24.2" text-anchor="middle" >30</text>
<line x1="787.70" y1="2207.60" x2="787.70" y2="2214.40" stroke="#231f20" stroke-width="1.05" />
<text transform="translate(787.30,2247.30) scale(1,1.01)" font-size="24.2" text-anchor="middle" >40</text>
<line x1="871.40" y1="2207.60" x2="871.40" y2="2214.40" stroke="#231f20" stroke-width="1.05" />
<text transform="translate(871.00,2247.30) scale(1,1.01)" font-size="24.2" text-anchor="middle" >50</text>
<text x="745.95" y="1865.40" font-size="26.5" text-anchor="middle" font-style="italic" >TaPIN9</text>
<text transform="translate(595.40,1904.70) scale(1,1.03)" font-size="31" font-weight="bold" >j</text>
<polyline points="620.30,2124.30 704.00,2007.40 787.70,2041.00 871.40,2184.00" fill="none" stroke="#231f20" stroke-width="1.95" stroke-linejoin="round"/>
<polyline points="620.30,2103.20 704.00,2022.40 787.70,2002.10 871.40,2170.80" fill="none" stroke="#231f20" stroke-width="1.95" stroke-linejoin="round"/>
<path d="M620.30 2099.40V2149.20M613.00 2099.40H627.60M613.00 2149.20H627.60M704.00 1961.80V2053.00M696.70 1961.80H711.30M696.70 2053.00H711.30M787.70 2036.30V2045.60M780.40 2036.30H795.00M780.40 2045.60H795.00M871.40 2179.50V2188.50M864.10 2179.50H878.70M864.10 2188.50H878.70" stroke="#231f20" stroke-width="1.7" fill="none"/>
<circle cx="618.90" cy="2122.90" r="6.4" fill="#231f20"/>
<circle cx="702.60" cy="2006.00" r="6.4" fill="#231f20"/>
<circle cx="786.30" cy="2039.60" r="6.4" fill="#231f20"/>
<circle cx="870.00" cy="2182.60" r="6.4" fill="#231f20"/>
<path d="M620.30 2075.20V2131.20M613.00 2075.20H627.60M613.00 2131.20H627.60M704.00 1965.70V2079.20M696.70 1965.70H711.30M696.70 2079.20H711.30M787.70 1993.80V2010.40M780.40 1993.80H795.00M780.40 2010.40H795.00M871.40 2169.70V2171.90M864.10 2169.70H878.70M864.10 2171.90H878.70" stroke="#231f20" stroke-width="1.7" fill="none"/>
<circle cx="618.90" cy="2101.80" r="5.6" fill="#fff" stroke="#231f20" stroke-width="1.25"/>
<circle cx="702.60" cy="2021.00" r="5.6" fill="#fff" stroke="#231f20" stroke-width="1.25"/>
<circle cx="786.30" cy="2000.70" r="5.6" fill="#fff" stroke="#231f20" stroke-width="1.25"/>
<circle cx="870.00" cy="2169.40" r="5.6" fill="#fff" stroke="#231f20" stroke-width="1.25"/>
<text transform="translate(264.75,20.80) scale(1,1.05)" font-size="31.2" text-anchor="middle" font-weight="bold" >Embryo</text>
<text transform="translate(746.00,20.70) scale(1,1.05)" font-size="31.2" text-anchor="middle" font-weight="bold" >Endosperm</text>
<text transform="translate(17.95,268.23) rotate(-90)" font-size="26.1" text-anchor="middle">Relative log<tspan dy="7.7">2</tspan><tspan dy="-7.7"> array signal</tspan></text>
<text transform="translate(17.95,713.85) rotate(-90)" font-size="26.1" text-anchor="middle">Relative log<tspan dy="7.7">2</tspan><tspan dy="-7.7"> array signal</tspan></text>
<text transform="translate(17.95,1150.30) rotate(-90)" font-size="26.1" text-anchor="middle">Relative log<tspan dy="7.7">2</tspan><tspan dy="-7.7"> array signal</tspan></text>
<text transform="translate(17.95,1592.25) rotate(-90)" font-size="26.1" text-anchor="middle">Relative log<tspan dy="7.7">2</tspan><tspan dy="-7.7"> array signal</tspan></text>
<text transform="translate(18.75,2041.00) rotate(-90)" font-size="26.1" text-anchor="middle">Relative log<tspan dy="7.7">2</tspan><tspan dy="-7.7"> array signal</tspan></text>
<text transform="translate(264.75,2299.70) scale(1,1.04)" font-size="26" text-anchor="middle" >DAA</text>
<text transform="translate(746.00,2299.70) scale(1,1.04)" font-size="26" text-anchor="middle" >DAA</text>
</svg></body></html>
